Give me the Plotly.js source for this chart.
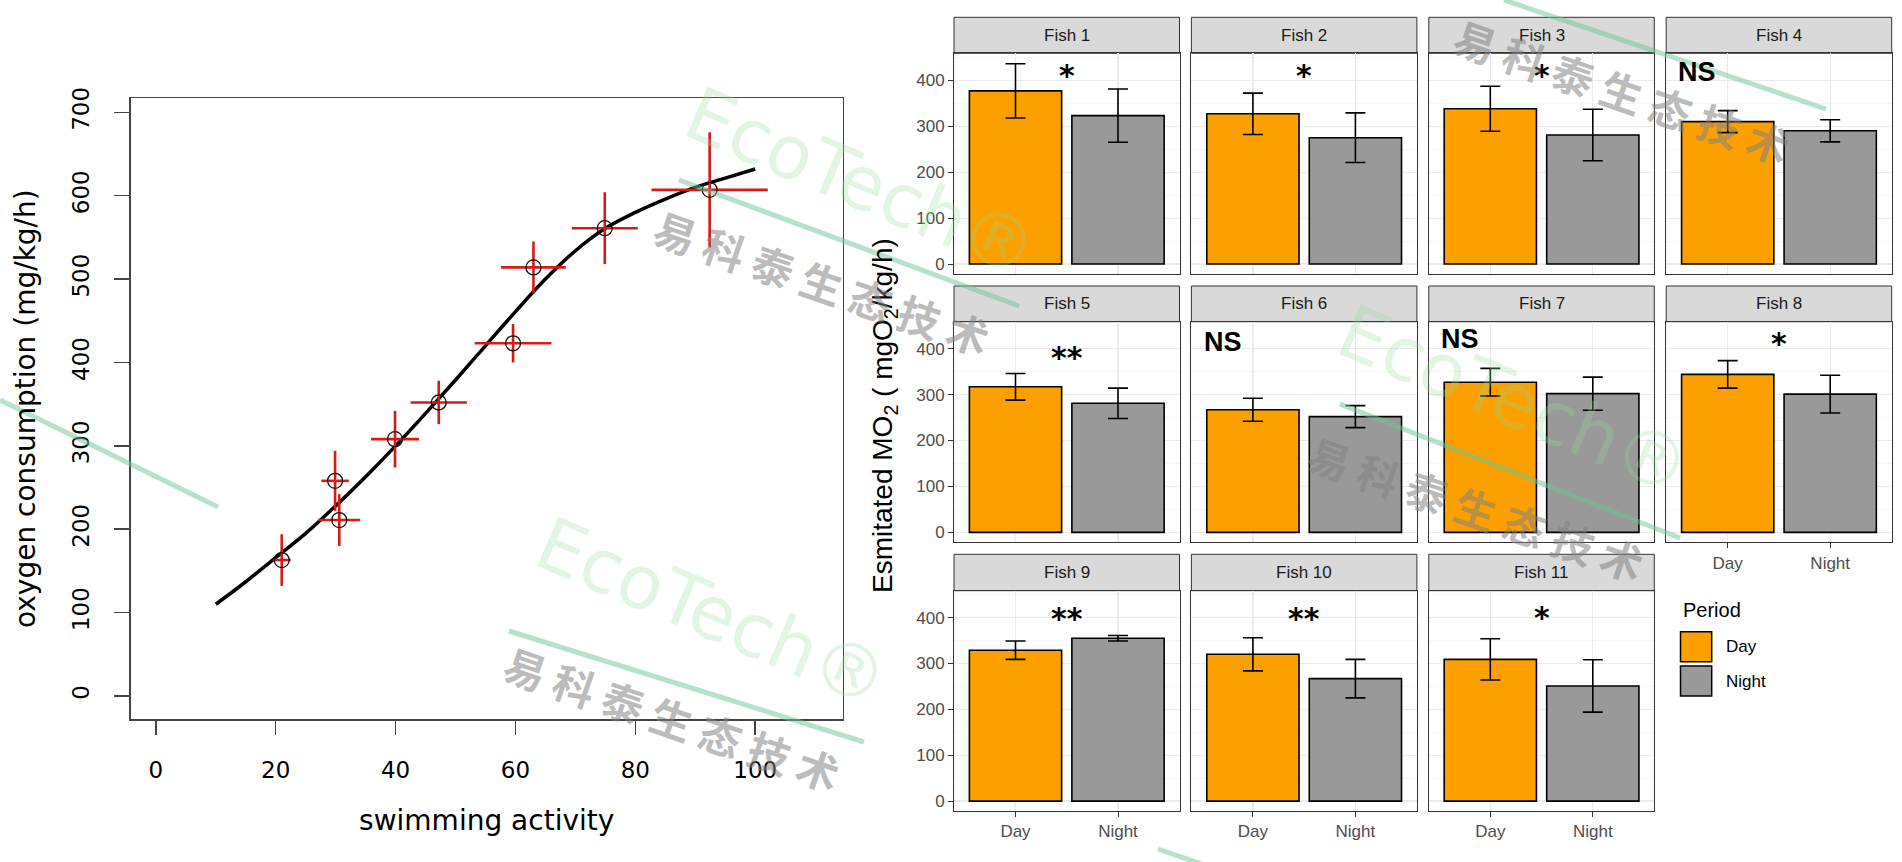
<!DOCTYPE html>
<html><head><meta charset="utf-8">
<script src="https://cdn.plot.ly/plotly-3.0.1.min.js"></script>
<style>html,body{margin:0;padding:0;background:#fff;}#chart{width:1902px;height:862px;}</style>
</head><body><div id="chart"></div>
<script>
// ---------- Left chart: oxygen consumption vs swimming activity ----------
const activityX   = [21.0, 29.9, 30.6, 39.9, 47.2, 59.6, 63.0, 74.9, 92.4];
const activityErr = [1.5, 2.3, 3.5, 4.0, 4.7, 6.4, 5.4, 5.5, 9.7];
const oxygenY     = [163, 258, 211, 308, 352, 423, 514, 561, 607];
const oxygenErr   = [31, 36, 31, 34, 26, 23, 31, 43, 69];
const fitX = [10, 15, 20, 25, 30, 35, 40, 45, 50, 55, 60, 65, 70, 75, 80, 85, 90, 95, 100];
const fitY = [110, 137, 166, 195, 228, 263, 300, 339, 379, 420, 461, 500, 534, 561, 580, 596, 610, 621, 632];
const xTickVals = [0, 20, 40, 60, 80, 100];

// ---------- Right chart: estimated MO2 per fish, Day vs Night ----------
const fishNames = ['Fish 1','Fish 2','Fish 3','Fish 4','Fish 5','Fish 6','Fish 7','Fish 8','Fish 9','Fish 10','Fish 11'];
const periods   = ['Day', 'Night'];
const dayMO2    = [377, 327, 338, 310, 317, 267, 327, 344, 329, 320, 309];
const dayErr    = [59, 45, 49, 24, 29, 25, 30, 30, 20, 36, 45];
const nightMO2  = [323, 275, 281, 290, 281, 252, 302, 301, 355, 267, 251];
const nightErr  = [58, 54, 56, 24, 33, 24, 36, 41, 6, 42, 57];
const sigLabels = ['*', '*', '*', 'NS', '**', 'NS', 'NS', '*', '**', '**', '*'];
const yTickVals = [0, 100, 200, 300, 400];

// ---------- watermark texts ----------
const wmLogo = 'EcoTech®';
const wmCompany = '易 科 泰 生 态 技 术';

// ---------- styles / geometry ----------
const W = 1902, H = 862;
const ORANGE = '#FCA000', GREY = '#999999';
const sigY = [410, 410, 410, 419, 380, 414, 420, 411, 398, 398, 400];
const colPx = [[954, 1179.5], [1191.4, 1416.9], [1428.8, 1654.3], [1666.2, 1891.7]];
const rowPx = [[53.3, 274], [321.7, 542.3], [590.7, 811]];
const stripPx = [[17.3, 53.3], [286, 321.7], [554.3, 590.7]];
const logoPos = [[861, 182], [1514, 400], [712, 612]];
const companyPos = [[822, 281], [1622, 90], [1476, 507], [672, 717]];
const wmLines = [[679, 180, 1019, 306], [1504, 0, 1826, 109], [1340, 404, 1680, 538], [0, 400, 218, 507], [509, 631, 864, 742], [1158, 849, 1213, 868]];
const px = v => v / W, py = v => 1 - v / H;
const RF = 'Liberation Sans, Arial, sans-serif';
const LF = 'DejaVu Sans, sans-serif';

const data = [];
const layout = {
  width: W, height: H, margin: {l: 0, r: 0, t: 0, b: 0},
  paper_bgcolor: '#fff', plot_bgcolor: '#fff', showlegend: false,
  shapes: [], annotations: [],
  xaxis: {
    domain: [px(130.7), px(842.7)], range: [-4.2, 114.6], tickvals: xTickVals,
    showgrid: false, zeroline: false, showline: true, mirror: true,
    linecolor: '#444', linewidth: 1.5, ticks: 'outside', ticklen: 14, tickwidth: 1.5, tickcolor: '#444',
    tickfont: {family: LF, size: 23, color: '#000'}, ticklabelstandoff: 16,
    title: {text: 'swimming activity', font: {family: LF, size: 28, color: '#000'}, standoff: 28}
  },
  yaxis: {
    domain: [py(719), py(98.3)], range: [-27.6, 716.8], dtick: 100, tick0: 0,
    showgrid: false, zeroline: false, showline: true, mirror: true,
    linecolor: '#444', linewidth: 1.5, ticks: 'outside', ticklen: 15, tickwidth: 1.5, tickcolor: '#444',
    tickangle: -90, tickfont: {family: LF, size: 23, color: '#000'}, ticklabelstandoff: 16,
    title: {text: 'oxygen consumption (mg/kg/h)', font: {family: LF, size: 28, color: '#000'}, standoff: 24}
  }
};

data.push({type: 'scatter', mode: 'lines', x: fitX, y: fitY, xaxis: 'x', yaxis: 'y',
  line: {color: '#000', width: 3.5, shape: 'spline'}, hoverinfo: 'skip'});
data.push({type: 'scatter', mode: 'markers', x: activityX, y: oxygenY, xaxis: 'x', yaxis: 'y',
  marker: {symbol: 'circle-open', size: 15, color: '#111', line: {width: 1.3}},
  error_x: {type: 'data', array: activityErr, color: '#D41A1A', thickness: 2.6, width: 0},
  error_y: {type: 'data', array: oxygenErr, color: '#D41A1A', thickness: 2.6, width: 0}});

fishNames.forEach((name, i) => {
  const row = Math.floor(i / 4), col = i % 4, n = i + 2;
  const xa = 'x' + n, ya = 'y' + n;
  const showY = col === 0, showX = i >= 7;
  data.push({type: 'bar', x: periods, y: [dayMO2[i], nightMO2[i]], xaxis: xa, yaxis: ya, width: 0.9,
    marker: {color: [ORANGE, GREY], line: {color: '#000', width: 1.6}},
    error_y: {type: 'data', array: [dayErr[i], nightErr[i]], color: '#000', thickness: 1.6, width: 10}});
  layout['xaxis' + n] = {
    domain: [px(colPx[col][0]), px(colPx[col][1])], anchor: ya, type: 'category',
    range: [-0.6, 1.6], showgrid: true, gridcolor: '#EBEBEB', gridwidth: 1.2, zeroline: false,
    showline: true, mirror: true, linecolor: '#333', linewidth: 1,
    ticks: showX ? 'outside' : '', ticklen: 5, tickcolor: '#333', showticklabels: showX,
    tickfont: {family: RF, size: 17, color: '#4D4D4D'}
  };
  layout['yaxis' + n] = {
    domain: [py(rowPx[row][1]), py(rowPx[row][0])], anchor: xa,
    range: [-21.6, 458.7], tickvals: yTickVals, showgrid: true, gridcolor: '#EBEBEB', gridwidth: 1.2,
    minor: {dtick: 50, tick0: 0, showgrid: true, gridcolor: '#F4F4F4', gridwidth: 0.8},
    zeroline: false, showline: true, mirror: true, linecolor: '#333', linewidth: 1,
    ticks: showY ? 'outside' : '', ticklen: 5, tickcolor: '#333', showticklabels: showY,
    tickfont: {family: RF, size: 17, color: '#4D4D4D'}
  };
  // facet strip
  layout.shapes.push({type: 'rect', xref: 'paper', yref: 'paper', layer: 'below',
    x0: px(colPx[col][0]), x1: px(colPx[col][1]), y0: py(stripPx[row][1]), y1: py(stripPx[row][0]),
    fillcolor: '#D9D9D9', line: {color: '#333', width: 1}});
  layout.annotations.push({xref: 'paper', yref: 'paper', showarrow: false,
    x: px((colPx[col][0] + colPx[col][1]) / 2), y: py((stripPx[row][0] + stripPx[row][1]) / 2),
    xanchor: 'center', yanchor: 'middle',
    text: name, font: {family: RF, size: 17, color: '#1A1A1A'}});
  // significance label
  const isNS = sigLabels[i] === 'NS';
  layout.annotations.push({xref: xa, yref: ya, showarrow: false,
    x: isNS ? -0.5 : 0.5, y: sigY[i], xanchor: isNS ? 'left' : 'center', yanchor: 'middle',
    text: sigLabels[i],
    font: isNS ? {family: RF, size: 27, color: '#000', weight: 'bold'} : {family: LF, size: 30, color: '#000', weight: 'bold'}});
});

// shared y title for facets
layout.annotations.push({xref: 'paper', yref: 'paper', showarrow: false, textangle: -90,
  x: px(884), y: py(416), xanchor: 'center', yanchor: 'middle',
  text: 'Esmitated MO<sub>2</sub> ( mgO<sub>2</sub>/kg/h)', font: {family: RF, size: 28, color: '#000'}});

// legend (Period)
layout.annotations.push({xref: 'paper', yref: 'paper', showarrow: false, x: px(1680.5), y: py(610),
  xanchor: 'left', yanchor: 'middle', text: 'Period', font: {family: RF, size: 20, color: '#000'}});
const keyY = [[631.7, 661.7], [666, 696]];
periods.forEach((p, k) => {
  layout.shapes.push({type: 'rect', xref: 'paper', yref: 'paper', x0: px(1680.5), x1: px(1711.7),
    y0: py(keyY[k][1]), y1: py(keyY[k][0]), fillcolor: k === 0 ? ORANGE : GREY, line: {color: '#000', width: 1.5}});
  layout.annotations.push({xref: 'paper', yref: 'paper', showarrow: false, x: px(1724),
    y: py((keyY[k][0] + keyY[k][1]) / 2), xanchor: 'left', yanchor: 'middle', text: p,
    font: {family: RF, size: 17, color: '#000'}});
});

// watermarks
wmLines.forEach(l => layout.shapes.push({type: 'line', xref: 'paper', yref: 'paper', layer: 'above',
  x0: px(l[0]), y0: py(l[1]), x1: px(l[2]), y1: py(l[3]), line: {color: 'rgba(110,195,150,0.5)', width: 5}}));
logoPos.forEach(p => layout.annotations.push({xref: 'paper', yref: 'paper', showarrow: false,
  x: px(p[0]), y: py(p[1]), xanchor: 'center', yanchor: 'middle', textangle: 23, text: wmLogo,
  font: {family: 'DejaVu Sans, sans-serif', size: 74, color: 'rgba(150,215,150,0.28)'}}));
companyPos.forEach(p => layout.annotations.push({xref: 'paper', yref: 'paper', showarrow: false,
  x: px(p[0]), y: py(p[1]), xanchor: 'center', yanchor: 'middle', textangle: 19, text: wmCompany,
  font: {family: 'Noto Sans CJK SC, sans-serif', size: 42, color: 'rgba(130,130,130,0.55)', weight: 'bold'}}));

Plotly.newPlot('chart', data, layout, {staticPlot: true, displayModeBar: false});
</script></body></html>
